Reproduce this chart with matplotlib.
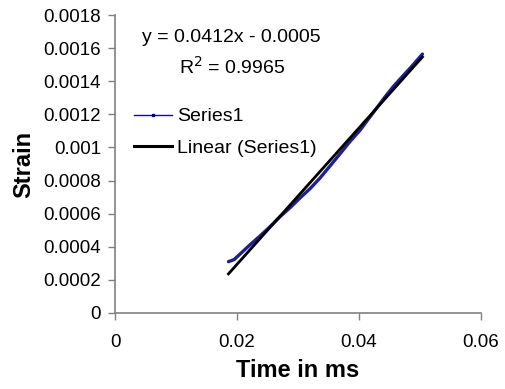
import numpy as np
import matplotlib.pyplot as plt
from matplotlib.lines import Line2D

plt.rcParams['font.family'] = ['Liberation Sans', 'DejaVu Sans']

# values
time_ms = [0.0186, 0.0195, 0.0205, 0.0221, 0.0238, 0.0254, 0.0270, 0.0287,
           0.0303, 0.0320, 0.0336, 0.0352, 0.0369, 0.0385, 0.0402, 0.0415,
           0.0429, 0.0442, 0.0456, 0.0471, 0.0486, 0.0496, 0.0504]
strain = [0.000310, 0.000322, 0.000356, 0.000411, 0.000466, 0.000521, 0.000580,
          0.000636, 0.000694, 0.000752, 0.000815, 0.000886, 0.000962, 0.001035,
          0.001105, 0.001170, 0.001238, 0.001302, 0.001367, 0.001428, 0.001488,
          0.001530, 0.001564]

# trendline as drawn (label shows rounded values)
trend_slope = 0.0412
trend_intercept = -0.00053
eq_text = "y = 0.0412x - 0.0005"
r2_text = "R$^2$ = 0.9965"

x_ticks = [0, 0.02, 0.04, 0.06]
x_labels = ["0", "0.02", "0.04", "0.06"]
y_ticks = [0, 0.0002, 0.0004, 0.0006, 0.0008, 0.001, 0.0012, 0.0014, 0.0016, 0.0018]
y_labels = ["0", "0.0002", "0.0004", "0.0006", "0.0008", "0.001", "0.0012",
            "0.0014", "0.0016", "0.0018"]

fig = plt.figure(figsize=(5.06, 3.89), dpi=100)
ax = fig.add_axes([0.2273, 0.1954, 0.7233, 0.766])

ax.plot(time_ms, strain, color="#1f1f8f", lw=2.4, solid_capstyle="round", zorder=2)

tx = np.array([time_ms[0], time_ms[-1]])
ax.plot(tx, trend_slope * tx + trend_intercept, color="black", lw=2, zorder=3)

ax.set_xlim(0, 0.06)
ax.set_ylim(0, 0.0018)
ax.set_xticks(x_ticks)
ax.set_xticklabels(x_labels)
ax.set_yticks(y_ticks)
ax.set_yticklabels(y_labels)

for s in ["top", "right"]:
    ax.spines[s].set_visible(False)
for s in ["left", "bottom"]:
    ax.spines[s].set_color("#808080")
    ax.spines[s].set_linewidth(1.2)
ax.tick_params(axis="both", colors="#808080", labelcolor="black",
               length=5, width=1, labelsize=13.5)
ax.tick_params(axis="x", pad=10)
ax.tick_params(axis="y", pad=5)

ax.set_xlabel("Time in ms", fontsize=17, fontweight="bold", labelpad=6)
ax.set_ylabel("Strain", fontsize=17, fontweight="bold", labelpad=6)

fig.text(231 / 506, 1 - 38 / 389, eq_text, ha="center", va="center", fontsize=14)
fig.text(232 / 506, 1 - 67 / 389, r2_text, ha="center", va="center", fontsize=14)

handles = [
    Line2D([], [], color="blue", lw=1, marker="s", markersize=2,
           markerfacecolor="#000080", markeredgecolor="#000080"),
    Line2D([], [], color="black", lw=2.2),
]
ax.legend(handles, ["Series1", "Linear (Series1)"], loc="upper left",
          bbox_to_anchor=(0.031, 0.715), frameon=False, fontsize=14,
          handlelength=1.95, handletextpad=0.25, labelspacing=0.72,
          borderaxespad=0)

fig.savefig("out.png", dpi=100)
